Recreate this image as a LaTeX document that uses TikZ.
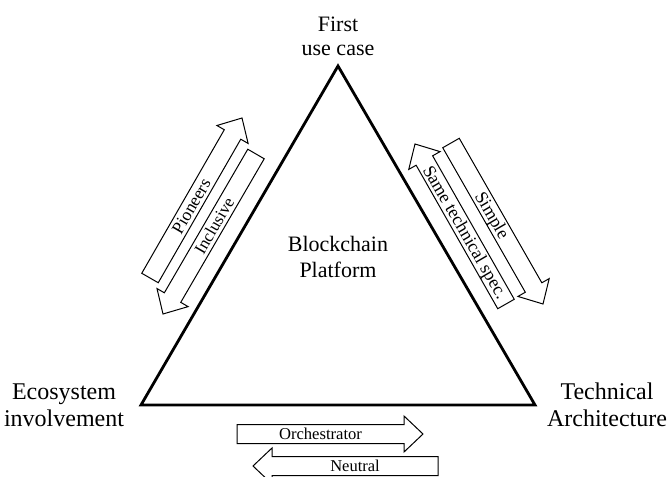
\documentclass[tikz,border=0pt]{standalone}
\usepackage{fontspec}
\setmainfont{Liberation Serif}
\usetikzlibrary{calc}
\tikzset{
  tri/.style={line width=2.8pt, line join=miter},
  arrowline/.style={line width=1pt, line join=miter},
  arrowlabel/.style={inner sep=0pt, text height=11.5pt, text depth=0pt},
  biglabel/.style={inner sep=0pt, align=center},
}
\newcommand\flatarrow[6]{% #1 name, #2 tail, #3 tip, #4 text rotation, #5 font size, #6 label
  \coordinate (#1-b) at ($(#3)!19pt!(#2)$);
  \draw[arrowline] ($(#2)!9.5pt!90:(#3)$) -- ($(#1-b)!9.5pt!90:(#3)$)
    -- ($(#1-b)!18pt!90:(#3)$) -- (#3) -- ($(#1-b)!18pt!-90:(#3)$)
    -- ($(#1-b)!9.5pt!-90:(#3)$) -- ($(#2)!9.5pt!-90:(#3)$) -- cycle;
  \node[arrowlabel, rotate=#4, font=\fontsize{#5}{#5}\selectfont] (#1) at ($(#2)!0.5!(#1-b)$) {#6};
}
\begin{document}
\begin{tikzpicture}[x=1pt, y=-1pt]
\clip (0,0) rectangle (670,477);
\fill[white] (0,0) rectangle (670,477);
% triangle
\coordinate (L) at (141,405);
\coordinate (T) at (338,66);
\coordinate (R) at (535,405);
\draw[tri] (L) -- (T) -- (R) -- cycle;
% labels
\node[biglabel, anchor=base, font=\fontsize{22}{26}\selectfont] (first) at (338,31) {First};
\node[biglabel, anchor=base, font=\fontsize{22}{26}\selectfont] (usecase) at (338,55) {use case};
\node[biglabel, font=\fontsize{22}{26}\selectfont] (bc) at (338,257) {Blockchain\\Platform};
\node[biglabel, font=\fontsize{24}{27}\selectfont] (eco) at (64,405) {Ecosystem\\involvement};
\node[biglabel, font=\fontsize{24}{27}\selectfont] (tech) at (607,405) {Technical\\Architecture};
% arrow end points
\coordinate (p1) at (150,278); \coordinate (p2) at (242,118);
\coordinate (i1) at (256,154); \coordinate (i2) at (163,314);
\coordinate (s1) at (506,304); \coordinate (s2) at (415,144);
\coordinate (m1) at (451,143); \coordinate (m2) at (543,304);
\coordinate (o1) at (237,434); \coordinate (o2) at (423,434);
\coordinate (n1) at (438,466); \coordinate (n2) at (253,466);
\flatarrow{pioneers}{p1}{p2}{59.8}{17.5}{Pioneers}
\flatarrow{inclusive}{i1}{i2}{59.8}{17}{Inclusive}
\flatarrow{sametech}{s1}{s2}{-59.8}{18}{Same technical spec.}
\flatarrow{simple}{m1}{m2}{-59.8}{18}{Simple}
\flatarrow{orch}{o1}{o2}{0}{16.6}{Orchestrator}
\flatarrow{neutral}{n1}{n2}{0}{16.5}{Neutral}
\end{tikzpicture}
\end{document}
